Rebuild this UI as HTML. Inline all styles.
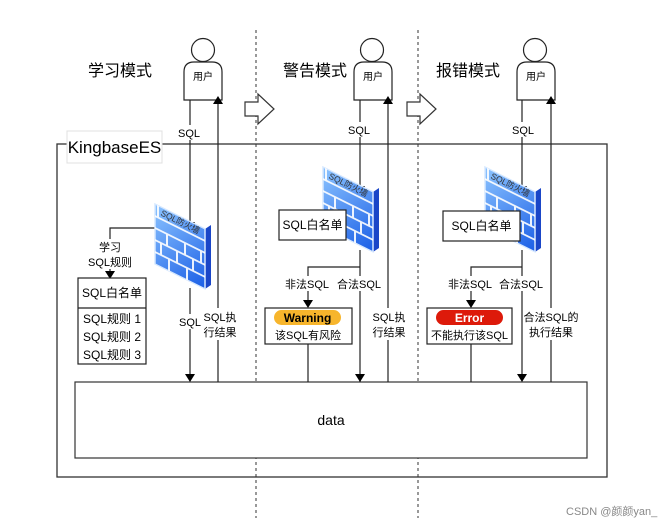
<!DOCTYPE html>
<html><head><meta charset="utf-8"><style>
html,body{margin:0;padding:0;background:#fff;}
svg{display:block;font-family:"Liberation Sans","Noto Sans CJK SC",sans-serif;}
</style></head><body>
<svg width="669" height="526" viewBox="0 0 669 526" xmlns="http://www.w3.org/2000/svg">
<defs>
<linearGradient id="fg" x1="0" y1="0" x2="1" y2="1">
<stop offset="0" stop-color="#8cc4ff"/><stop offset="1" stop-color="#1a5ee6"/>
</linearGradient>
<g id="fw">
<polygon points="50,25 56,21 56,81 50,85" fill="#1a46c8"/>
<g transform="skewY(26.5)">
<rect x="0" y="0" width="50" height="60" fill="url(#fg)" stroke="#d6e8ff" stroke-width="1.5"/>
<g stroke="#fff" stroke-width="2" fill="none" opacity="0.9">
<path d="M0,12H50M0,24H50M0,36H50M0,48H50"/>
<path d="M12,24V36M30,24V36M46,24V36M6,36V48M22,36V48M38,36V48M14,48V60M32,48V60M3,0V12"/>
</g>
</g>
<text x="0" y="0" font-size="8.5" fill="#333" transform="translate(5,11) rotate(26.5)">SQL防火墙</text>
</g>
</defs>
<g font-size="11">
<line x1="256" y1="30" x2="256" y2="518" stroke="#333" stroke-dasharray="3,3"/>
<line x1="418" y1="30" x2="418" y2="518" stroke="#333" stroke-dasharray="3,3"/>
<rect x="57" y="144" width="550" height="333" fill="none" stroke="#333" stroke-width="1.3"/>
<rect x="67" y="131" width="95" height="32" fill="#fff" stroke="#e0e0e0"/>
<text x="114.5" y="153" font-size="17" text-anchor="middle">KingbaseES</text>
<text x="88" y="76" font-size="16">学习模式</text>
<text x="283" y="76" font-size="16">警告模式</text>
<text x="436" y="76" font-size="16">报错模式</text>
<polygon points="245,102 258,102 258,94 274,109 258,124 258,116 245,116" fill="#fff" stroke="#333" stroke-width="1.2"/>
<polygon points="407,102 420,102 420,94 436,109 420,124 420,116 407,116" fill="#fff" stroke="#333" stroke-width="1.2"/>
<g fill="#fff" stroke="#222" stroke-width="1.2">
<circle cx="203" cy="50" r="11.5"/><path d="M184,100 V72 Q184,62 194,62 H212 Q222,62 222,72 V100 Z"/>
<circle cx="372" cy="50" r="11.5"/><path d="M354,100 V72 Q354,62 364,62 H382 Q392,62 392,72 V100 Z"/>
<circle cx="535" cy="50" r="11.5"/><path d="M517,100 V72 Q517,62 527,62 H545 Q555,62 555,72 V100 Z"/>
</g>
<text x="203" y="80" text-anchor="middle" font-size="10">用户</text>
<text x="373" y="80" text-anchor="middle" font-size="10">用户</text>
<text x="536" y="80" text-anchor="middle" font-size="10">用户</text>
<rect x="75" y="382" width="512" height="76" fill="#fff" stroke="#333" stroke-width="1.2"/>
<text x="331" y="425" text-anchor="middle" font-size="14">data</text>

<g stroke="#222" stroke-width="1.2" fill="none">
<line x1="190" y1="100" x2="190" y2="225"/>
<line x1="190" y1="288" x2="190" y2="378"/>
<line x1="218" y1="382" x2="218" y2="104"/>
<polyline points="156,228 110,228 110,274"/>
<line x1="360" y1="100" x2="360" y2="188"/>
<polyline points="360,250 360,382"/>
<line x1="388" y1="382" x2="388" y2="104"/>
<polyline points="360,267 308,267 308,304"/>
<line x1="522" y1="100" x2="522" y2="188"/>
<polyline points="522,250 522,378"/>
<line x1="551" y1="382" x2="551" y2="104"/>
<polyline points="522,267 471,267 471,304"/>
<line x1="308" y1="344" x2="308" y2="382"/>
<line x1="471" y1="344" x2="471" y2="382"/>
</g>
<g fill="#000">
<path d="M185,222 L195,222 L190,230 Z"/><path d="M185,374 L195,374 L190,382 Z"/>
<path d="M213,104 L223,104 L218,96 Z"/><path d="M105,271 L115,271 L110,279 Z"/>
<path d="M355,186 L365,186 L360,194 Z"/><path d="M355,374 L365,374 L360,382 Z"/>
<path d="M383,104 L393,104 L388,96 Z"/><path d="M303,300 L313,300 L308,308 Z"/>
<path d="M517,186 L527,186 L522,194 Z"/><path d="M517,374 L527,374 L522,382 Z"/>
<path d="M546,104 L556,104 L551,96 Z"/><path d="M466,300 L476,300 L471,308 Z"/>
</g>
<g fill="#fff">
<rect x="176" y="125" width="27" height="15"/><rect x="345" y="122" width="28" height="15"/><rect x="509" y="122" width="28" height="15"/>
<rect x="176" y="314" width="28" height="15"/>
<rect x="204" y="308" width="32" height="32"/><rect x="373" y="308" width="32" height="32"/><rect x="523" y="308" width="56" height="32"/>
<rect x="89" y="239" width="42" height="30"/>
<rect x="283" y="276" width="48" height="15"/><rect x="335" y="276" width="48" height="15"/>
<rect x="446" y="276" width="48" height="15"/><rect x="497" y="276" width="48" height="15"/>
</g>
<text x="189" y="137" text-anchor="middle">SQL</text>
<text x="359" y="134" text-anchor="middle">SQL</text>
<text x="523" y="134" text-anchor="middle">SQL</text>
<text x="190" y="326" text-anchor="middle">SQL</text>
<text x="220" y="321" text-anchor="middle">SQL执</text><text x="220" y="336" text-anchor="middle">行结果</text>
<text x="389" y="321" text-anchor="middle">SQL执</text><text x="389" y="336" text-anchor="middle">行结果</text>
<text x="551" y="321" text-anchor="middle">合法SQL的</text><text x="551" y="336" text-anchor="middle">执行结果</text>
<text x="110" y="251" text-anchor="middle">学习</text><text x="110" y="266" text-anchor="middle">SQL规则</text>
<text x="307" y="288" text-anchor="middle">非法SQL</text><text x="359" y="288" text-anchor="middle">合法SQL</text>
<text x="470" y="288" text-anchor="middle">非法SQL</text><text x="521" y="288" text-anchor="middle">合法SQL</text>

<use href="#fw" transform="translate(155,204)"/>
<use href="#fw" transform="translate(323,167)"/>
<use href="#fw" transform="translate(485,167)"/>

<rect x="279" y="210" width="67" height="30" fill="#fff" stroke="#222" stroke-width="1.2"/>
<text x="312.5" y="229" text-anchor="middle" font-size="12">SQL白名单</text>
<rect x="443" y="211" width="77" height="30" fill="#fff" stroke="#222" stroke-width="1.2"/>
<text x="481.5" y="230" text-anchor="middle" font-size="12">SQL白名单</text>

<rect x="78" y="278" width="68" height="86" fill="#fff" stroke="#222" stroke-width="1.2"/>
<line x1="78" y1="308" x2="146" y2="308" stroke="#222" stroke-width="1.2"/>
<text x="112" y="297" text-anchor="middle" font-size="12">SQL白名单</text>
<text x="112" y="323" text-anchor="middle" font-size="12">SQL规则 1</text>
<text x="112" y="341" text-anchor="middle" font-size="12">SQL规则 2</text>
<text x="112" y="359" text-anchor="middle" font-size="12">SQL规则 3</text>

<rect x="265" y="308" width="87" height="36" fill="#fff" stroke="#222" stroke-width="1.2"/>
<rect x="274" y="310" width="67" height="15" rx="7.5" fill="#f7b52c"/>
<text x="307.5" y="322" text-anchor="middle" font-size="12" font-weight="bold">Warning</text>
<text x="308" y="339" text-anchor="middle">该SQL有风险</text>
<rect x="427" y="308" width="85" height="36" fill="#fff" stroke="#222" stroke-width="1.2"/>
<rect x="436" y="310" width="67" height="15" rx="7.5" fill="#dd1a0a"/>
<text x="469.5" y="322" text-anchor="middle" font-size="12" font-weight="bold" fill="#fff">Error</text>
<text x="469.5" y="339" text-anchor="middle">不能执行该SQL</text>

<text x="566" y="515" font-size="11" fill="#888">CSDN @颜颜yan_</text>
</g>
</svg>
</body></html>
